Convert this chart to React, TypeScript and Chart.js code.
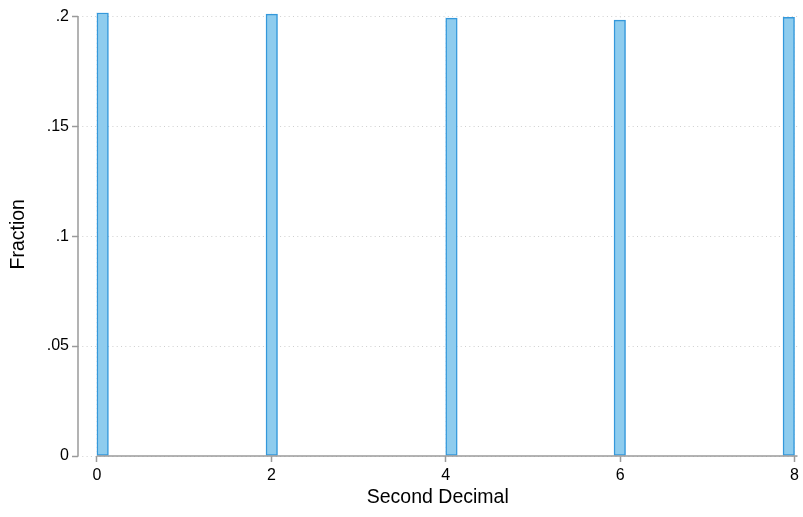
import React, { useEffect, useRef } from "react";
import { Chart, registerables } from "chart.js";

Chart.register(...registerables);

// Histogram of the second decimal digit
const binCenters = [0.066, 2.005, 4.066, 5.996, 7.934];
const fractions = [0.2016, 0.201, 0.1992, 0.1983, 0.1995];
const xTicks = [0, 2, 4, 6, 8];
const yTicks = [0, 0.05, 0.1, 0.15, 0.2];
const xTitle = "Second Decimal";
const yTitle = "Fraction";

const FONT = "'Liberation Sans', Arial, Helvetica, sans-serif";
const AXIS_GRAY = "#9a9a9a";

const axisLines = {
  id: "axisLines",
  afterDatasetsDraw(chart: any) {
    const { ctx, chartArea, scales } = chart;
    const x = scales.x;
    const y = scales.y;
    ctx.save();
    ctx.strokeStyle = AXIS_GRAY;
    ctx.lineWidth = 1.5;
    ctx.beginPath();
    ctx.moveTo(chartArea.left, y.getPixelForValue(yTicks[yTicks.length - 1]));
    ctx.lineTo(chartArea.left, y.getPixelForValue(0));
    ctx.stroke();
    ctx.beginPath();
    ctx.moveTo(x.getPixelForValue(xTicks[0]), y.getPixelForValue(0));
    ctx.lineTo(chartArea.right, y.getPixelForValue(0));
    ctx.stroke();
    ctx.restore();
  },
};

export default function App() {
  const ref = useRef<HTMLCanvasElement>(null);
  useEffect(() => {
    document.body.style.margin = "0";
    const canvas = ref.current!;
    const chart = new Chart(canvas, {
      type: "bar",
      data: {
        datasets: [
          {
            data: binCenters.map((x, i) => ({ x, y: fractions[i] })),
            backgroundColor: "rgb(142,204,238)",
            borderColor: "rgb(52,152,219)",
            borderWidth: 1.5,
            borderSkipped: false,
            barThickness: 11.5,
          },
        ],
      },
      options: {
        animation: false,
        responsive: false,
        maintainAspectRatio: false,
        layout: { padding: { top: 8.5, right: 3, left: 0, bottom: 0 } },
        plugins: { legend: { display: false }, tooltip: { enabled: false } },
        scales: {
          x: {
            type: "linear",
            offset: false,
            min: -0.217,
            max: 8.034,
            afterBuildTicks: (s: any) => {
              s.ticks = xTicks.map((v) => ({ value: v }));
            },
            afterFit: (s: any) => {
              s.height = 61;
            },
            ticks: {
              color: "#000",
              font: { family: FONT, size: 16 },
              padding: 4,
              maxRotation: 0,
              callback: (v: any) => String(v),
            },
            grid: {
              offset: false,
              color: "rgba(215,215,215,0.45)",
              tickColor: AXIS_GRAY,
              tickLength: 6,
              tickWidth: 1.5,
              drawOnChartArea: true,
            },
            border: { display: false, dash: [1, 3.3] },
            title: {
              display: true,
              text: xTitle,
              color: "#000",
              font: { family: FONT, size: 19.5 },
              padding: { top: 0, bottom: 8 },
            },
          },
          y: {
            min: 0,
            max: 0.2017,
            afterBuildTicks: (s: any) => {
              s.ticks = yTicks.map((v) => ({ value: v }));
            },
            afterFit: (s: any) => {
              s.width = 78;
            },
            ticks: {
              color: "#000",
              font: { family: FONT, size: 16 },
              padding: 3,
              callback: (v: any) => (v === 0 ? "0" : String(v).replace(/^0\./, ".")),
            },
            grid: {
              color: "#cfcfcf",
              tickColor: AXIS_GRAY,
              tickLength: 6,
              tickWidth: 1.5,
            },
            border: { display: false, dash: [1, 3.3] },
            title: {
              display: true,
              text: yTitle,
              color: "#000",
              font: { family: FONT, size: 19.5 },
              padding: { top: 7, bottom: 0 },
            },
          },
        },
      },
      plugins: [axisLines],
    });
    return () => chart.destroy();
  }, []);
  return (
    <div style={{ position: "fixed", left: 0, top: 0, width: 803, height: 517 }}>
      <canvas ref={ref} width={803} height={517} style={{ width: 803, height: 517 }} />
    </div>
  );
}
